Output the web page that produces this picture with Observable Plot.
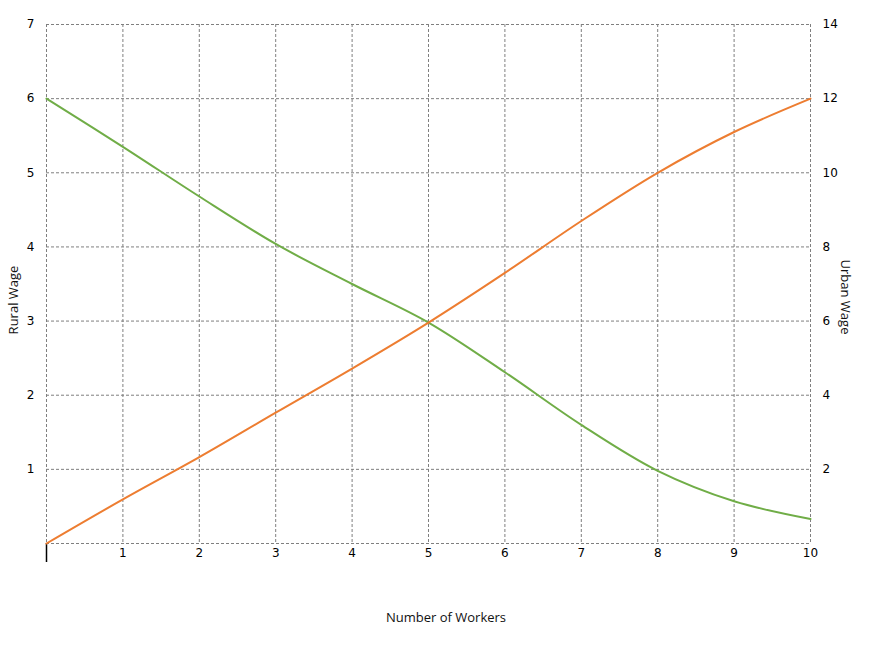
<!DOCTYPE html>
<html>
<head>
<meta charset="utf-8">
<script src="https://cdn.jsdelivr.net/npm/d3@7"></script>
<script src="https://cdn.jsdelivr.net/npm/@observablehq/plot@0.6"></script>
<style>
  html, body { margin: 0; padding: 0; background: #fff; }
</style>
</head>
<body>
<div id="chart"></div>
<script>
const workers = [0, 1, 2, 3, 4, 5, 6, 7, 8, 9, 10];
const ruralWage = [6.0, 5.35, 4.68, 4.04, 3.5, 2.98, 2.31, 1.6, 0.98, 0.57, 0.33];
const urbanWage = [0.0, 1.19, 2.33, 3.53, 4.72, 5.96, 7.3, 8.7, 10.0, 11.1, 12.0];
const xTicks = [1, 2, 3, 4, 5, 6, 7, 8, 9, 10];
const leftTicks = [1, 2, 3, 4, 5, 6, 7];
const rightTicks = [2, 4, 6, 8, 10, 12, 14];

const rural = workers.map((w, i) => ({ w, v: ruralWage[i] }));
const urban = workers.map((w, i) => ({ w, v: urbanWage[i] }));

const font = "'DejaVu Sans', Verdana, sans-serif";
const titleFont = "'Open Sans', 'Noto Sans', sans-serif";

const chart = Plot.plot({
  width: 879,
  height: 646,
  marginLeft: 46,
  marginRight: 69,
  marginTop: 24,
  marginBottom: 103,
  style: { fontFamily: font, fontSize: "12px", color: "#000", background: "#fff" },
  x: { domain: [0, 10] },
  y: { domain: [0, 7] },
  marks: [
    Plot.ruleX(workers, { x: d => d, stroke: "#7f7f7f", strokeDasharray: "3,2", strokeWidth: 1 }),
    Plot.ruleY([0, ...leftTicks], { y: d => d, stroke: "#7f7f7f", strokeDasharray: "3,2", strokeWidth: 1 }),
    Plot.axisX({ ticks: xTicks, tickFormat: d => String(d), tickSize: 0, tickPadding: 5, label: null, fontSize: 12 }),
    Plot.axisX({ ticks: [0], tickSize: 19, tickFormat: () => "", label: null, stroke: "#000", strokeWidth: 1.5 }),
    Plot.axisY({ anchor: "left", ticks: leftTicks, tickFormat: d => String(d), tickSize: 0, tickPadding: 12, label: null, fontSize: 12 }),
    Plot.axisY({ anchor: "right", ticks: leftTicks, tickFormat: d => String(rightTicks[d - 1]), tickSize: 0, tickPadding: 12, label: null, fontSize: 12 }),
    Plot.line(rural, { x: "w", y: "v", stroke: "#70ad47", strokeWidth: 2, curve: "catmull-rom" }),
    Plot.line(urban, { x: "w", y: d => d.v / 2, stroke: "#ed7d31", strokeWidth: 2, curve: "catmull-rom" })
  ]
});

const svg = d3.select(chart);
svg.append("text")
  .attr("x", 446).attr("y", 622)
  .attr("text-anchor", "middle")
  .style("font-family", titleFont).style("font-size", "13px").attr("fill", "#111")
  .text("Number of Workers");
svg.append("text")
  .attr("transform", "translate(18,300) rotate(-90)")
  .attr("text-anchor", "middle")
  .style("font-family", titleFont).style("font-size", "13px").attr("fill", "#111")
  .text("Rural Wage");
svg.append("text")
  .attr("transform", "translate(841,297) rotate(90)")
  .attr("text-anchor", "middle")
  .style("font-family", titleFont).style("font-size", "13px").attr("fill", "#111")
  .text("Urban Wage");

document.getElementById("chart").appendChild(chart);
</script>
</body>
</html>
